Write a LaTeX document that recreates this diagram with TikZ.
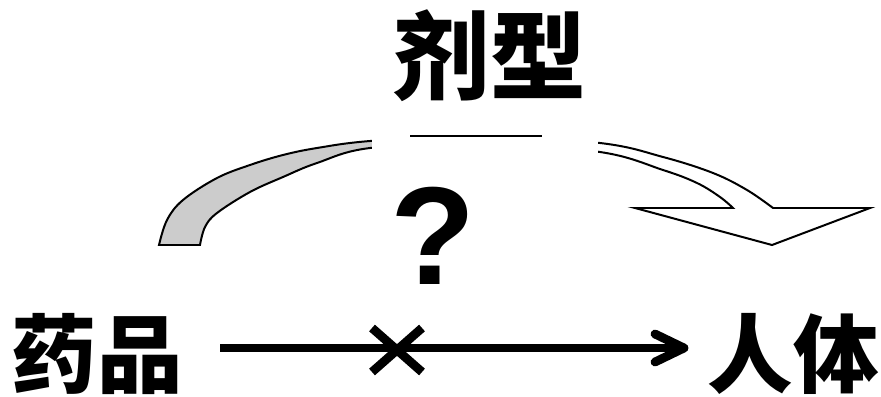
\documentclass[tikz,border=0pt]{standalone}
\usepackage{fontspec}
\setmainfont{Liberation Sans}
\newfontfamily\cjk{Noto Sans CJK SC}
\definecolor{bandgray}{RGB}{204,204,204}
\begin{document}
\begin{tikzpicture}[x=0.03cm,y=-0.03cm,
  bigtext/.style={inner sep=0pt, font=\cjk\bfseries\fontsize{73}{80}\selectfont},
  band/.style={draw=black, line width=1.7pt, line join=miter},
  shaft/.style={line width=7.5pt},
]
\useasboundingbox (0,0) rectangle (881,396);
\newcommand\bandshape{plot[smooth, tension=0.6] coordinates {(159,245) (167,220) (183,200) (217,178) (250,165) (283,155) (317,148) (370,141) (475,135) (600,143) (663,157) (713,173) (747,190) (773,208)} -- (870,208) -- (772,245) -- (635,208) -- (733,208) -- plot[smooth, tension=0.6] coordinates {(733,208) (720,197) (697,183) (663,170) (600,152) (480,143) (370,148) (317,163) (283,177) (250,192) (217,213) (205,227) (200,245)} -- cycle}
% curved block arrow
\begin{scope}
  \clip (0,0) rectangle (485,396);
  \fill[bandgray] \bandshape;
\end{scope}
\draw[band] \bandshape;
\fill[white] (372,118) rectangle (598,163);
\draw[line width=0.9pt] (410,136) -- (542,136);
% texts
\node[bigtext, font=\cjk\bfseries\fontsize{82}{90}\selectfont] (jixing) at (490,56) {剂型};
\node[inner sep=0pt, font=\bfseries\fontsize{119}{120}\selectfont] (q) at (433,236) {?};
\node[bigtext] (yaopin) at (97,354) {药品};
\node[bigtext] (renti) at (793,354) {人体};
% straight arrow with cross
\coordinate (s) at (220,348);
\coordinate (e) at (684,348);
\draw[shaft] (s) -- (e);
\draw[shaft, line cap=round, line join=round] ([shift={(-29,-14)}]e) -- (e) -- ([shift={(-29,14)}]e);
\coordinate (x) at (397,350);
\draw[shaft] ([shift={(-25,-22)}]x) -- ([shift={(25,22)}]x);
\draw[shaft] ([shift={(25,-22)}]x) -- ([shift={(-25,22)}]x);
\end{tikzpicture}
\end{document}
